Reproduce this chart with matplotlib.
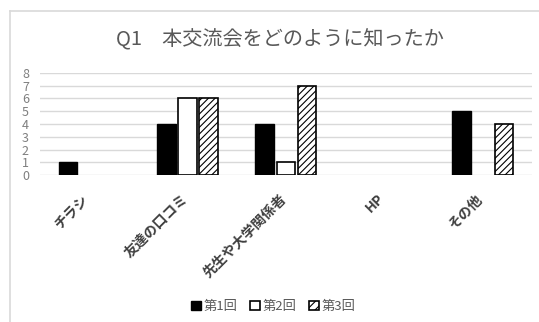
import numpy as np
import matplotlib.pyplot as plt
import matplotlib.transforms as mtransforms
from matplotlib.lines import Line2D
from matplotlib.patches import Patch

plt.rcParams['font.family'] = ['Noto Sans CJK JP', 'DejaVu Sans']
plt.rcParams['hatch.linewidth'] = 0.8

# data
categories = ["チラシ", "友達の口コミ", "先生や大学関係者", "HP", "その他"]
series_names = ["第1回", "第2回", "第3回"]
round1 = [1, 4, 4, 0, 5]
round2 = [0, 6, 1, 0, 0]
round3 = [0, 6, 7, 0, 4]

fig = plt.figure(figsize=(5.39, 3.22), dpi=100)
ax = fig.add_axes([0.0742, 0.4565, 0.9128, 0.3168])

x = np.arange(len(categories))
w = 0.19
off = 0.215

def lw(vals, width):
    # zero-height bars should not show an outline
    return [width if v else 0 for v in vals]

ax.bar(x - off, round1, w, color="black", edgecolor="black", linewidth=lw(round1, 1), zorder=3)
ax.bar(x, round2, w, color="white", edgecolor="black", linewidth=lw(round2, 1.2), zorder=3)
ax.bar(x + off, round3, w, color="white", edgecolor="black", hatch="/////",
       linewidth=lw(round3, 1.2), zorder=3)

ax.set_xlim(-0.5, len(categories) - 0.5)
ax.set_ylim(0, 8)
ax.set_yticks(range(0, 9))
ax.yaxis.grid(True, color="#d9d9d9", linewidth=1, zorder=0)
ax.set_axisbelow(True)
for s in ax.spines.values():
    s.set_visible(False)
ax.tick_params(axis="both", length=0)
ax.tick_params(axis="y", labelsize=9, labelcolor="#7f7f7f", pad=8)
ax.set_xticks(x)
ax.set_xticklabels(categories, rotation=45, ha="right", rotation_mode="anchor",
                   fontsize=10, fontweight="bold", color="#404040")
ax.tick_params(axis="x", pad=12)
shift = mtransforms.ScaledTranslation(-7 / 100, 0, fig.dpi_scale_trans)
for lab in ax.get_xticklabels():
    lab.set_transform(lab.get_transform() + shift)

fig.text(0.519, 0.876, "Q1　本交流会をどのように知ったか", ha="center", va="center",
         fontsize=14.5, color="#595959")

handles = [
    Patch(facecolor="black", edgecolor="black", linewidth=1),
    Patch(facecolor="white", edgecolor="black", linewidth=1.2),
    Patch(facecolor="white", edgecolor="black", linewidth=1.2, hatch="////"),
]
fig.legend(handles, series_names, loc="center", bbox_to_anchor=(0.507, 0.047), ncol=3,
           frameon=False, fontsize=9.5, handlelength=0.7, handleheight=0.7,
           handletextpad=0.2, columnspacing=1.0, labelcolor="#595959")

# chart border
fig.add_artist(Line2D([10 / 539, 10 / 539], [0, 1 - 11 / 322], transform=fig.transFigure,
                      color="#d9d9d9", linewidth=1.2))
fig.add_artist(Line2D([10 / 539, 1], [1 - 11 / 322, 1 - 11 / 322], transform=fig.transFigure,
                      color="#d9d9d9", linewidth=1.2))

fig.savefig("out.png", dpi=100)
